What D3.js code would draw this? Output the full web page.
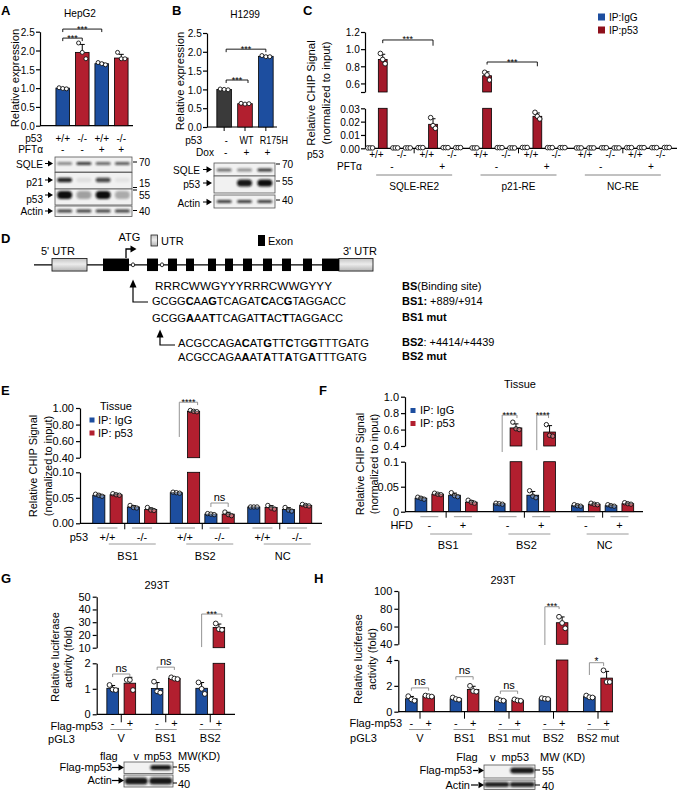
<!DOCTYPE html>
<html><head><meta charset="utf-8">
<script src="https://cdn.jsdelivr.net/npm/d3@7"></script>
<style>body{margin:0;background:#fff}</style>
</head><body>
<script>
// ================= DATA =================
// Panel A (HepG2)
const A_genotype = ["+/+","-/-","+/+","-/-"];
const A_pft = ["-","-","+","+"];
const A_values = [1.0, 1.95, 1.65, 1.8];
const A_points = [[1.01,0.99,0.98],[2.2,1.95,1.78],[1.68,1.65,1.62],[1.95,1.78,1.78]];
const A_ticks = [0,0.5,1,1.5,2,2.5];
const A_tickLabels = ["0.0","0.5","1.0","1.5","2.0","2.5"];
const A_blotRows = ["SQLE","p21","p53","Actin"];
const A_blotBands = [[0.45,0.8,0.6,0.65],[0.9,0.08,0.75,0.06],[1,0.35,1,0.3],[0.8,0.8,0.8,0.8]];
const A_mw = ["70","15","55","40"];

// Panel B (H1299)
const B_p53 = ["-","WT","R175H"];
const B_dox = ["-","+","+"];
const B_values = [1.0, 0.62, 1.88];
const B_points = [[1.01,1.0,0.99],[0.63,0.61,0.62],[1.9,1.87,1.87]];
const B_blotRows = ["SQLE","p53","Actin"];
const B_blotBands = [[0.6,0.45,0.85],[0,0.95,1],[0.8,0.8,0.8]];
const B_mw = ["70","55","40"];

// Panel C (ChIP, order: group > PFTα > genotype > IP)
const C_groups = ["SQLE-RE2","p21-RE","NC-RE"];
const C_pft = ["-","+"];
const C_genotype = ["+/+","-/-"];
const C_ip = ["IP:IgG","IP:p53"];
const C_values = [
  0.0003,0.88,0.0003,0.0003, 0.0005,0.018,0.0005,0.0005,
  0.0003,0.69,0.0005,0.0003, 0.0006,0.024,0.0005,0.0005,
  0.0003,0.0003,0.0004,0.0003, 0.0005,0.0005,0.0005,0.0006];
const C_points = [
  [0.0003,0.0003,0.0003],[0.95,0.88,0.83],[0.0003,0.0003,0.0003],[0.0003,0.0003,0.0003],
  [0.0005,0.0005,0.0005],[0.023,0.017,0.015],[0.0005,0.0005,0.0005],[0.0005,0.0005,0.0005],
  [0.0003,0.0003,0.0003],[0.73,0.70,0.64],[0.0005,0.0005,0.0005],[0.0003,0.0003,0.0003],
  [0.0006,0.0006,0.0006],[0.027,0.024,0.022],[0.0005,0.0005,0.0005],[0.0005,0.0005,0.0005],
  [0.0003,0.0003,0.0003],[0.0003,0.0003,0.0003],[0.0004,0.0004,0.0004],[0.0003,0.0003,0.0003],
  [0.0005,0.0005,0.0005],[0.0005,0.0005,0.0005],[0.0005,0.0005,0.0005],[0.0006,0.0006,0.0006]];
const C_upperTicks = [0.5,0.6,0.8,1.0,1.2];
const C_upperLabels = ["","0.6","0.8","1.0","1.2"];
const C_lowerTicks = [0,0.01,0.02,0.03];
const C_lowerLabels = ["0.00","0.01","0.02","0.03"];

// Panel D (gene diagram, positions in diagram units)
const D_line = [0,339];
const D_utr = [[18,53],[305,339]];
const D_exons = [[69,95],[113,124],[134,143],[152,160],[174,182],[191,199],[209,218],[229,238],[248,257],[269,278],[288,305]];
const D_introns = [99,128];
const D_seqs = [
  {seq:"RRRCWWGYYYRRRCWWGYYY", bold:[], label:[["BS",true],["(Binding site)",false]]},
  {seq:"GCGGCAAGTCAGATCACGTAGGACC", bold:[4,7,14,17], label:[["BS1:",true],[" +889/+914",false]]},
  {seq:"GCGGAAATTCAGATTACTTAGGACC", bold:[4,7,14,17], label:[["BS1 mut",true]]},
  {seq:"ACGCCAGACATGTTCTGGTTTGATG", bold:[8,11,14,17], label:[["BS2",true],[": +4414/+4439",false]]},
  {seq:"ACGCCAGAAATATTATGATTTGATG", bold:[8,11,14,17], label:[["BS2 mut",true]]}];

// Panel E (tissue ChIP by p53 genotype)
const E_groups = ["BS1","BS2","NC"];
const E_genotype = ["+/+","-/-"];
const E_ip = ["IP: IgG","IP: p53"];
const E_values = [0.055,0.056,0.032,0.027, 0.060,0.96,0.018,0.018, 0.032,0.031,0.027,0.035];
const E_points = [[0.057,0.055,0.053],[0.058,0.056,0.055],[0.035,0.031,0.030],[0.031,0.026,0.025],
  [0.061,0.060,0.059],[0.97,0.96,0.955],[0.019,0.018,0.017],[0.022,0.017,0.015],
  [0.032,0.032,0.032],[0.035,0.030,0.028],[0.031,0.026,0.024],[0.037,0.035,0.034]];
const E_upperTicks = [0.4,0.6,0.8,1.0], E_upperLabels = ["0.40","0.60","0.80","1.00"];
const E_lowerTicks = [0,0.05,0.1], E_lowerLabels = ["0.00","0.05","0.10"];

// Panel F (tissue ChIP by HFD)
const F_groups = ["BS1","BS2","NC"];
const F_hfd = ["-","+"];
const F_values = [0.027,0.035,0.033,0.019, 0.016,0.62,0.033,0.57, 0.012,0.015,0.012,0.016];
const F_points = [[0.029,0.027,0.025],[0.037,0.035,0.034],[0.038,0.032,0.030],[0.023,0.019,0.017],
  [0.017,0.016,0.015],[0.69,0.61,0.60],[0.042,0.031,0.028],[0.66,0.53,0.52],
  [0.014,0.012,0.011],[0.017,0.015,0.014],[0.014,0.012,0.011],[0.018,0.016,0.015]];
const F_upperTicks = [0.4,0.6,0.8,1.0], F_upperLabels = ["0.4","0.6","0.8","1.0"];
const F_lowerTicks = [0,0.05,0.1], F_lowerLabels = ["0","0.05","0.1"];

// Panel G (luciferase, 293T)
const G_groups = ["V","BS1","BS2"];
const G_flag = ["-","+"];
const G_values = [1.02,1.22, 1.01,1.41, 1.02,25.8];
const G_points = [[1.15,0.97,0.95],[1.35,1.35,0.95],[1.28,0.90,0.85],[1.45,1.40,1.38],[1.25,1.00,0.80],[29,24.5,24]];
const G_upperTicks = [10,20,30,40,50], G_upperLabels = ["10","20","30","40","50"];
const G_lowerTicks = [0,1,2], G_lowerLabels = ["0","1","2"];
const G_blotLanes = ["v","mp53"];
const G_blotBands = [[0,0.95],[0.95,0.95]];

// Panel H (luciferase, 293T, mutants)
const H_groups = ["V","BS1","BS1 mut","BS2","BS2 mut"];
const H_flag = ["-","+"];
const H_values = [1.0,1.21, 1.0,1.72, 0.91,0.89, 1.01,64.3, 1.16,2.6];
const H_points = [[1.2,0.95,0.85],[1.25,1.2,1.17],[1.1,0.98,0.93],[2.0,1.6,1.55],[1.0,0.88,0.85],
  [0.95,0.87,0.84],[1.05,1.0,0.98],[71,64,58],[1.25,1.12,1.1],[3.2,2.3,2.3]];
const H_upperTicks = [40,60,80,100], H_upperLabels = ["40","60","80","100"];
const H_lowerTicks = [0,2,4], H_lowerLabels = ["0","2","4"];
const H_blotLanes = ["v","mp53"];
const H_blotBands = [[0,0.95],[0.9,0.9]];

// ================= STYLE / HELPERS =================
const FONT = "'Liberation Sans', Arial, Helvetica, sans-serif";
const BLUE = "#1d4e9f", RED = "#b21f2f", CRED = "#a3192a", GRAY = "#3a3a3a", LGRAY = "#9a9a9a";
const NARROW = {size:11.6, sx:0.87};   // text style of panels A–C

const svg = d3.select("body").append("svg").attr("width",681).attr("height",795)
  .style("font-family",FONT);
const defs = svg.append("defs");
defs.append("filter").attr("id","blur").attr("x","-50%").attr("y","-100%").attr("width","200%").attr("height","300%")
  .append("feGaussianBlur").attr("stdDeviation",1.1);
const grad = defs.append("linearGradient").attr("id","utrGrad").attr("x1",0).attr("y1",0).attr("x2",0).attr("y2",1);
grad.append("stop").attr("offset","0%").attr("stop-color","#c4c4c4");
grad.append("stop").attr("offset","45%").attr("stop-color","#ececec");
grad.append("stop").attr("offset","100%").attr("stop-color","#b4b4b4");

function T(g,x,y,s,o={}) {
  const t = g.append("text").text(s)
    .attr("font-size",o.size||11).attr("text-anchor",o.anchor||"middle").attr("fill",o.fill||"#000");
  if (o.sx) t.attr("x",0).attr("y",0).attr("transform",`translate(${x},${y}) scale(${o.sx},1)`);
  else t.attr("x",x).attr("y",y);
  if (o.bold) t.attr("font-weight","bold");
  return t;
}
function N(o={}) { return Object.assign({}, NARROW, o); }
function L(g,x1,y1,x2,y2,o={}) {
  return g.append("line").attr("x1",x1).attr("y1",y1).attr("x2",x2).attr("y2",y2)
    .attr("stroke",o.stroke||"#000").attr("stroke-width",o.w||1);
}
function yTitle(g,cx,cy,lines,dx,size) {
  lines.forEach((s,i)=> g.append("text").attr("transform",`translate(${cx+i*dx},${cy}) rotate(-90)`)
    .attr("text-anchor","middle").attr("dominant-baseline","central").attr("font-size",size||11).text(s));
}
function drawAxis(g, x, scale, ticks, labels, st) {
  const ax = d3.axisLeft(scale).tickValues(ticks).tickFormat((d,i)=>labels[i])
    .tickSize(4).tickSizeOuter(0).tickPadding(2);
  const a = g.append("g").attr("transform",`translate(${x},0)`).call(ax);
  a.attr("font-family",FONT).attr("font-size",st ? st.size : 11);
  a.select(".domain").attr("stroke","#000").attr("stroke-width",1.2);
  a.selectAll(".tick line").attr("stroke","#000").attr("stroke-width",1.2);
  a.selectAll(".tick text").attr("fill","#000");
  if (st) a.selectAll(".tick text").attr("transform",`scale(${st.sx},1)`);
}
function drawBars(g, bars, lower, upper, o={}) {
  const lowMax = lower.domain()[1];
  const upMin = upper ? upper.domain()[0] : Infinity;
  const ySeg = v => (v >= upMin ? upper(v) : lower(Math.min(v, lowMax)));
  bars.forEach(b => {
    const yl = lower(Math.min(b.v, lowMax));
    g.append("rect").attr("x",b.cx-b.w/2).attr("y",yl).attr("width",b.w).attr("height",Math.max(0,lower(0)-yl))
      .attr("fill",b.color).attr("stroke","#000").attr("stroke-width",0.8);
    if (b.v > upMin) {
      g.append("rect").attr("x",b.cx-b.w/2).attr("y",upper(b.v)).attr("width",b.w)
        .attr("height",upper(upMin)-upper(b.v))
        .attr("fill",b.color).attr("stroke","#000").attr("stroke-width",0.8);
    }
    const sd = d3.deviation(b.pts) || 0;
    if (sd > 0) {
      const y1 = ySeg(b.v), y2 = ySeg(b.v + sd);
      if (y1 - y2 > 0.6) {
        L(g,b.cx,y1,b.cx,y2,{w:1});
        L(g,b.cx-2.5,y2,b.cx+2.5,y2,{w:1});
      }
    }
    b.pts.forEach((p,i) => {
      g.append("circle").attr("cx", b.cx + (i-1)*b.w*0.27).attr("cy", ySeg(p)).attr("r", o.r||2.2)
        .attr("fill", o.dotFill||"#fff").attr("fill-opacity", o.dotOpacity==null?1:o.dotOpacity)
        .attr("stroke","#111").attr("stroke-width",0.9);
    });
  });
}
function bracket(g, x1, x2, yTop, yL, yR, label, o={}) {
  g.append("path").attr("d",`M${x1},${yL}V${yTop}H${x2}V${yR}`).attr("fill","none")
    .attr("stroke",o.stroke||"#000").attr("stroke-width",o.w||0.9);
  T(g,(x1+x2)/2 + (o.tx||0), yTop + (o.dy!=null?o.dy:2.5), label, {size:o.size||10});
}
function arrowHeadRight(g,x,y,s=5) {
  g.append("path").attr("d",`M${x-s},${y-s*0.6}L${x},${y}L${x-s},${y+s*0.6}Z`).attr("fill","#000");
}
function blotRow(g, x0, x1, y0, y1, laneX, laneW, intens, bandY, bandH) {
  g.append("rect").attr("x",x0).attr("y",y0).attr("width",x1-x0).attr("height",y1-y0)
    .attr("fill","#f1f1f1").attr("stroke","#555").attr("stroke-width",0.8);
  intens.forEach((v,i) => {
    if (v <= 0) return;
    g.append("rect").attr("x",laneX(i)-laneW/2).attr("y",bandY-bandH/2).attr("width",laneW).attr("height",bandH)
      .attr("rx",bandH/2).attr("fill","#111").attr("opacity",v).attr("filter","url(#blur)");
  });
}
function panelLabel(x,y,s){ T(svg,x,y,s,{size:13,bold:true,anchor:"start"}); }

// ================= PANEL A =================
{
  const g = svg.append("g");
  panelLabel(1,15,"A");
  T(g,80,17,"HepG2",N());
  const y = d3.scaleLinear().domain([0,2.5]).range([125.7,31.7]);
  const x = d3.scaleBand().domain(d3.range(4)).range([53,131]).paddingInner(0.3).paddingOuter(0.15);
  const cx = i => x(i)+x.bandwidth()/2;
  drawAxis(g,40,y,A_ticks,A_tickLabels,NARROW);
  L(g,40,y(0),133,y(0),{w:1.2});
  drawBars(g, A_values.map((v,i)=>({cx:cx(i), w:x.bandwidth(), v, pts:A_points[i], color:i%2?RED:BLUE})), y, null, {r:2});
  bracket(g,cx(0),cx(2),y(2.57),y(2.49),y(2.49),"***",{size:9});
  bracket(g,cx(0),cx(1),y(2.33),y(2.25),y(2.25),"***",{size:9});
  yTitle(g,15,78,["Relative expression"],0,11.3);
  T(g,42,141.5,"p53",N({anchor:"end"}));
  T(g,43,153,"PFTα",N({anchor:"end"}));
  A_genotype.forEach((s,i)=>T(g,cx(i),141.5,s,N()));
  A_pft.forEach((s,i)=>T(g,cx(i),153,s,N()));
  const bx = d3.scaleBand().domain(d3.range(4)).range([55,132]);
  const lane = i => bx(i)+bx.bandwidth()/2;
  const rows = [[157,172],[172.5,189],[189,205],[206,216.5]];
  const bandY = [163.5,180,195,211], bandH = [3,4.5,8,3];
  const labY = [167.5,185.5,202.5,215], arrY = [163.5,180,195,211];
  rows.forEach((r,k)=>{
    blotRow(g,55,132,r[0],r[1],lane,15,A_blotBands[k],bandY[k],bandH[k]);
    T(g,43,labY[k],A_blotRows[k],N({anchor:"end"}));
    L(g,45,arrY[k],49,arrY[k],{w:1}); arrowHeadRight(g,53,arrY[k],5);
  });
  const mwY = [162,183,195,210.5], tickY = [162,187.5,190,210.5];
  A_mw.forEach((s,k)=>{ L(g,133,tickY[k],137,tickY[k],{w:1}); T(g,139,mwY[k]+4,s,N({anchor:"start"})); });
}

// ================= PANEL B =================
{
  const g = svg.append("g");
  panelLabel(172,15,"B");
  T(g,245,18,"H1299",N());
  const y = d3.scaleLinear().domain([0,2.5]).range([127,33]);
  const x = d3.scaleBand().domain(d3.range(3)).range([211,279]).paddingInner(0.3).paddingOuter(0.28);
  const cx = i => x(i)+x.bandwidth()/2;
  drawAxis(g,207,y,A_ticks,A_tickLabels,NARROW);
  L(g,207,y(0),277,y(0),{w:1.2});
  B_values.forEach((v,i)=>L(g,cx(i),y(0),cx(i),y(0)+4,{w:1}));
  drawBars(g, B_values.map((v,i)=>({cx:cx(i), w:x.bandwidth(), v, pts:B_points[i], color:[GRAY,RED,BLUE][i]})), y, null, {r:2});
  bracket(g,cx(0)+2,cx(2),y(2.07),y(1.99),y(1.99),"***",{size:9});
  bracket(g,cx(0)+2,cx(1)+3,y(1.25),y(1.17),y(1.17),"***",{size:9});
  yTitle(g,180,81,["Relative expression"],0,11.3);
  T(g,202,144,"p53",N({anchor:"end"}));
  T(g,214,156,"Dox",N({anchor:"end"}));
  const labX = [cx(0)+2, cx(1)+1.5, cx(2)+8];
  B_p53.forEach((s,i)=>T(g,labX[i],144,s,N({sx:0.78})));
  B_dox.forEach((s,i)=>T(g,cx(i)+1.5,156,s,N()));
  const bx = d3.scaleBand().domain(d3.range(3)).range([214,275]);
  const lane = i => bx(i)+bx.bandwidth()/2;
  const rows = [[163,176],[176,193],[195,208]];
  const bandY = [170,183,201.5], bandH = [3.2,7,3.2];
  const labY = [174,188,207], arrY = [169.5,183,202];
  rows.forEach((r,k)=>{
    blotRow(g,214,275,r[0],r[1],lane,15,B_blotBands[k],bandY[k],bandH[k]);
    T(g,200,labY[k],B_blotRows[k],N({anchor:"end"}));
    L(g,203,arrY[k],207,arrY[k],{w:1}); arrowHeadRight(g,212,arrY[k],5.5);
  });
  const mwY = [164,181,200];
  B_mw.forEach((s,k)=>{ L(g,276,mwY[k],280,mwY[k],{w:1}); T(g,282,mwY[k]+4,s,N({anchor:"start"})); });
}

// ================= PANEL C =================
{
  const g = svg.append("g");
  panelLabel(303,15,"C");
  const upper = d3.scaleLinear().domain([0.5,1.2]).range([92,32]);
  const lower = d3.scaleLinear().domain([0,0.03]).range([148.3,108.3]);
  const gx = d3.scaleBand().domain(d3.range(3)).range([362,675]);
  const ix = d3.scaleBand().domain(d3.range(8)).range([0,gx.bandwidth()]).paddingInner(0.3).paddingOuter(0.3);
  const cx = (gi,j) => gx(gi)+ix(j)+ix.bandwidth()/2;
  drawAxis(g,365,upper,C_upperTicks,C_upperLabels,NARROW);
  drawAxis(g,365,lower,C_lowerTicks,C_lowerLabels,NARROW);
  L(g,365,lower(0),677,lower(0),{w:1.2});
  const bars = [];
  C_values.forEach((v,k)=>{ const gi=Math.floor(k/8), j=k%8;
    bars.push({cx:cx(gi,j), w:ix.bandwidth(), v, pts:C_points[k], color:j%2?CRED:BLUE}); });
  drawBars(g,bars,lower,upper,{r:2.3});
  bracket(g,cx(0,1),cx(0,5),upper(1.107),upper(1.07),upper(1.04),"***",{size:9});
  bracket(g,cx(1,1),cx(1,5),upper(0.85),upper(0.82),upper(0.80),"***",{size:9});
  yTitle(g,311,93,["Relative CHIP Signal","(normalized to input)"],15,11.3);
  C_ip.forEach((s,i)=>{
    g.append("rect").attr("x",598).attr("y",13.5+i*13).attr("width",7).attr("height",7).attr("fill",i?"#8e0f1b":BLUE);
    T(g,609,21+i*13,s,N({anchor:"start"}));
  });
  T(g,307,158,"p53",N({anchor:"start"}));
  T(g,337,170,"PFTα",N({anchor:"start"}));
  C_groups.forEach((name,gi)=>{
    const gc = gx(gi)+gx.bandwidth()/2;
    L(g,gc,lower(0),gc,lower(0)+5,{w:1});
    for (let s=0;s<2;s++){
      for (let k=0;k<2;k++){
        const j = s*4+k*2;
        T(g,(cx(gi,j)+cx(gi,j+1))/2,158,C_genotype[k],N());
      }
      T(g,(cx(gi,s*4)+cx(gi,s*4+3))/2+3,170,C_pft[s],N());
    }
    L(g,gc-38,175,gc+38,175,{stroke:"#777",w:0.9});
    T(g,gc,190,name,N());
  });
}

// ================= PANEL D =================
{
  const g = svg.append("g");
  panelLabel(1,243,"D");
  const x = d3.scaleLinear().domain([0,340]).range([34,374]);
  const yMid = 264.8, h = 12.5;
  L(g,x(D_line[0]),yMid,x(D_line[1]),yMid,{w:1.2});
  D_utr.forEach(([a,b])=>g.append("rect").attr("x",x(a)).attr("y",yMid-h/2).attr("width",x(b)-x(a)).attr("height",h)
    .attr("fill","url(#utrGrad)").attr("stroke","#222").attr("stroke-width",0.9));
  D_exons.forEach(([a,b])=>g.append("rect").attr("x",x(a)).attr("y",yMid-h/2).attr("width",x(b)-x(a)).attr("height",h)
    .attr("fill","#000"));
  D_introns.forEach(p=>g.append("ellipse").attr("cx",x(p)).attr("cy",yMid).attr("rx",1.6).attr("ry",2)
    .attr("fill","#fff").attr("stroke","#000").attr("stroke-width",0.8));
  T(g,41,255,"5' UTR",{anchor:"start"});
  T(g,343,255,"3' UTR",{anchor:"start"});
  g.append("path").attr("d","M126,258V249H131").attr("fill","none").attr("stroke","#000").attr("stroke-width",1.3);
  arrowHeadRight(g,136.5,249,6);
  T(g,129.5,241,"ATG");
  g.append("rect").attr("x",151).attr("y",235).attr("width",6.5).attr("height",11).attr("fill","url(#utrGrad)").attr("stroke","#222").attr("stroke-width",0.8);
  T(g,161,245,"UTR",{anchor:"start"});
  g.append("rect").attr("x",258).attr("y",235).attr("width",7).attr("height",11).attr("fill","#000");
  T(g,268,245,"Exon",{anchor:"start"});
  g.append("path").attr("d","M148,302H133V286").attr("fill","none").attr("stroke","#000").attr("stroke-width",1.2);
  g.append("path").attr("d","M129.5,287.5L133,279.5L136.5,287.5Z").attr("fill","#000");
  g.append("path").attr("d","M175,345H160V336").attr("fill","none").attr("stroke","#000").attr("stroke-width",1.2);
  g.append("path").attr("d","M156.5,337.5L160,329.5L163.5,337.5Z").attr("fill","#000");
  const seqLayout = [{x:155,y:290,len:177},{x:152,y:305,len:194},{x:152,y:322,len:191},{x:178,y:347,len:191},{x:178,y:361,len:189}];
  const labY = [290,305,321,346,360];
  D_seqs.forEach((d,k)=>{
    const lay = seqLayout[k];
    const t = g.append("text").attr("x",lay.x).attr("y",lay.y).attr("font-size",11)
      .attr("textLength",lay.len).attr("lengthAdjust","spacingAndGlyphs");
    let runs = [], cur = null;
    d.seq.split("").forEach((ch,i)=>{ const b = d.bold.includes(i);
      if (!cur || cur.b!==b) { cur={b,s:""}; runs.push(cur); } cur.s+=ch; });
    runs.forEach(r=>t.append("tspan").attr("font-weight",r.b?"bold":"normal").text(r.s));
    const lt = g.append("text").attr("x",402).attr("y",labY[k]).attr("font-size",11);
    d.label.forEach(([s,b])=>lt.append("tspan").attr("font-weight",b?"bold":"normal").text(s));
  });
}

// ================= PANEL E =================
{
  const g = svg.append("g");
  panelLabel(1,395,"E");
  const upper = d3.scaleLinear().domain([0.4,1.0]).range([457.7,408]);
  const lower = d3.scaleLinear().domain([0,0.1]).range([523.3,472.3]);
  const gx = d3.scaleBand().domain(d3.range(3)).range([86,318.5]);
  const ix = d3.scaleBand().domain(d3.range(4)).range([0,gx.bandwidth()]).paddingInner(0.3).paddingOuter(0.39);
  const cx = (gi,j) => gx(gi)+ix(j)+ix.bandwidth()/2;
  drawAxis(g,80,upper,E_upperTicks,E_upperLabels);
  drawAxis(g,80,lower,E_lowerTicks,E_lowerLabels);
  L(g,80,lower(0),322,lower(0),{w:1.2});
  const bars = E_values.map((v,k)=>({cx:cx(Math.floor(k/4),k%4), w:ix.bandwidth(), v, pts:E_points[k], color:k%2?RED:BLUE}));
  drawBars(g,bars,lower,upper,{r:2.2,dotOpacity:0.35});
  bracket(g,cx(1,0)+3,cx(1,1)+4,upper(1.07),upper(0.65),upper(1.035),"****",{size:9,stroke:"#888"});
  bracket(g,cx(1,2),cx(1,3),lower(0.0398),lower(0.032),lower(0.032),"ns",{size:11,dy:-2.5,stroke:"#888"});
  yTitle(g,33,466,["Relative CHIP Signal","(normalized to input)"],15);
  T(g,116,410,"Tissue");
  E_ip.forEach((s,i)=>{
    g.append("rect").attr("x",89.5).attr("y",417.5+i*13).attr("width",5).attr("height",5).attr("fill",i?RED:BLUE);
    T(g,98,423.5+i*13,s,{anchor:"start"});
  });
  T(g,88,541,"p53",{anchor:"end"});
  E_groups.forEach((name,gi)=>{
    const gc = gx(gi)+gx.bandwidth()/2;
    L(g,gc,lower(0),gc,lower(0)+6,{w:1});
    for (let k=0;k<2;k++){
      const pc = (cx(gi,2*k)+cx(gi,2*k+1))/2;
      L(g,pc-10,528,pc+10,528,{stroke:LGRAY,w:1});
      T(g,pc,541,E_genotype[k]);
    }
    L(g,gc-16,544,gc+31,544,{stroke:LGRAY,w:1});
    T(g,gc+3,560,name);
  });
}

// ================= PANEL F =================
{
  const g = svg.append("g");
  panelLabel(319,395,"F");
  const upper = d3.scaleLinear().domain([0.4,1.0]).range([446,396.7]);
  const lower = d3.scaleLinear().domain([0,0.1]).range([511.7,461.7]);
  const gx = d3.scaleBand().domain(d3.range(3)).range([407,641.75]);
  const ix = d3.scaleBand().domain(d3.range(4)).range([0,gx.bandwidth()]).paddingInner(0.3).paddingOuter(0.48);
  const cx = (gi,j) => gx(gi)+ix(j)+ix.bandwidth()/2;
  drawAxis(g,405,upper,F_upperTicks,F_upperLabels);
  drawAxis(g,405,lower,F_lowerTicks,F_lowerLabels);
  L(g,405,lower(0),643,lower(0),{w:1.2});
  const bars = F_values.map((v,k)=>({cx:cx(Math.floor(k/4),k%4), w:ix.bandwidth(), v, pts:F_points[k], color:k%2?RED:BLUE}));
  drawBars(g,bars,lower,upper,{r:2.2,dotOpacity:0.35});
  bracket(g,cx(1,0)+3,cx(1,1)+1,upper(0.777),upper(0.327),upper(0.74),"****",{size:9,stroke:"#888"});
  bracket(g,cx(1,2)+4,cx(1,3)-1,upper(0.777),upper(0.35),upper(0.74),"****",{size:9,stroke:"#888"});
  yTitle(g,360,464,["Relative CHIP Signal","(normalized to input)"],14);
  T(g,520,388,"Tissue");
  E_ip.forEach((s,i)=>{
    g.append("rect").attr("x",410.5).attr("y",408+i*13).attr("width",5).attr("height",5).attr("fill",i?RED:BLUE);
    T(g,420,414+i*13,s,{anchor:"start"});
  });
  T(g,413,529,"HFD",{anchor:"end"});
  F_groups.forEach((name,gi)=>{
    const gc = gx(gi)+gx.bandwidth()/2;
    L(g,gc,lower(0),gc,lower(0)+6,{w:1});
    for (let k=0;k<2;k++){
      const pc = (cx(gi,2*k)+cx(gi,2*k+1))/2;
      L(g,pc-9,516.7,pc+9,516.7,{stroke:LGRAY,w:1});
      T(g,pc,529,F_hfd[k]);
    }
    L(g,gc-16,534,gc+26,534,{stroke:LGRAY,w:1});
    T(g,gc+2,549,name);
  });
}

// ================= PANEL G =================
{
  const g = svg.append("g");
  panelLabel(1,583,"G");
  T(g,157,589,"293T");
  const upper = d3.scaleLinear().domain([10,50]).range([647.7,596.7]);
  const lower = d3.scaleLinear().domain([0,2]).range([714.3,663.3]);
  const gx = d3.scaleBand().domain(d3.range(3)).range([99,232.5]);
  const ix = d3.scaleBand().domain(d3.range(2)).range([0,gx.bandwidth()]).paddingInner(0.33).paddingOuter(0.455);
  const cx = (gi,j) => gx(gi)+ix(j)+ix.bandwidth()/2;
  drawAxis(g,96.7,upper,G_upperTicks,G_upperLabels);
  drawAxis(g,96.7,lower,G_lowerTicks,G_lowerLabels);
  L(g,96.7,lower(0),235,lower(0),{w:1.2});
  const bars = G_values.map((v,k)=>({cx:cx(Math.floor(k/2),k%2), w:ix.bandwidth(), v, pts:G_points[k], color:k%2?RED:BLUE}));
  drawBars(g,bars,lower,upper,{r:2.4});
  bracket(g,cx(2,0),cx(2,1)+3,upper(36.4),upper(10.5),upper(34),"***",{size:9,stroke:"#888"});
  bracket(g,cx(0,0),cx(0,1),lower(1.58),lower(1.46),lower(1.46),"ns",{size:11,dy:-2.5,stroke:"#888"});
  bracket(g,cx(1,0),cx(1,1),lower(1.85),lower(1.74),lower(1.74),"ns",{size:11,dy:-2.5,stroke:"#888"});
  yTitle(g,55,657,["Relative luciferase","activity (fold)"],13);
  T(g,103,730,"Flag-mp53",{anchor:"end"});
  T(g,75,743,"pGL3",{anchor:"end"});
  G_groups.forEach((name,gi)=>{
    const gc = gx(gi)+gx.bandwidth()/2;
    L(g,gc,lower(0),gc,lower(0)+8,{w:1});
    G_flag.forEach((s,j)=>T(g,cx(gi,j),727,s));
    L(g,gc-11,729.5,gc+11,729.5,{stroke:LGRAY,w:1});
    T(g,gc,742,name);
  });
  const bx = d3.scaleBand().domain(d3.range(2)).range([124,173]);
  const lane = i => bx(i)+bx.bandwidth()/2;
  T(g,100,760,"flag",{anchor:"start"});
  G_blotLanes.forEach((s,i)=>T(g,lane(i)+(i?-3:0),760,s));
  T(g,178,760,"MW(KD)",{anchor:"start"});
  blotRow(g,124,173,762,773.5,lane,21,G_blotBands[0],767.5,5);
  blotRow(g,124,173,775,787,lane,23,G_blotBands[1],781,7);
  T(g,112,771,"Flag-mp53",{anchor:"end"});
  T(g,112,784,"Actin",{anchor:"end"});
  L(g,112,767.5,119,767.5,{w:1.2}); arrowHeadRight(g,124,767.5,5.5);
  L(g,112,780.5,119,780.5,{w:1.2}); arrowHeadRight(g,124,780.5,5.5);
  L(g,173,767,177,767,{w:1}); T(g,178,771.5,"55",{anchor:"start"});
  L(g,173,783,177,783,{w:1}); T(g,178,787.5,"40",{anchor:"start"});
}

// ================= PANEL H =================
{
  const g = svg.append("g");
  panelLabel(314,583,"H");
  T(g,503,584,"293T");
  const upper = d3.scaleLinear().domain([40,100]).range([644.3,591]);
  const lower = d3.scaleLinear().domain([0,4]).range([711.7,660]);
  const gx = d3.scaleBand().domain(d3.range(5)).range([397.75,620.25]);
  const ix = d3.scaleBand().domain(d3.range(2)).range([0,gx.bandwidth()]).paddingInner(0.33).paddingOuter(0.455);
  const cx = (gi,j) => gx(gi)+ix(j)+ix.bandwidth()/2;
  drawAxis(g,398.3,upper,H_upperTicks,H_upperLabels);
  drawAxis(g,398.3,lower,H_lowerTicks,H_lowerLabels);
  L(g,398.3,lower(0),613,lower(0),{w:1.2});
  const bars = H_values.map((v,k)=>({cx:cx(Math.floor(k/2),k%2), w:ix.bandwidth(), v, pts:H_points[k], color:k%2?RED:BLUE}));
  drawBars(g,bars,lower,upper,{r:2.4});
  bracket(g,cx(3,0),cx(3,1)-3,upper(82.3),upper(39.2),upper(79.7),"***",{size:9,stroke:"#888"});
  bracket(g,cx(4,0),cx(4,1)-3,lower(3.79),lower(2.84),lower(3.54),"*",{size:10,stroke:"#888"});
  bracket(g,cx(0,0),cx(0,1),lower(1.84),lower(1.62),lower(1.62),"ns",{size:11,dy:-2.5,stroke:"#888"});
  bracket(g,cx(1,0),cx(1,1),lower(2.71),lower(2.48),lower(2.48),"ns",{size:11,dy:-2.5,stroke:"#888"});
  bracket(g,cx(2,0),cx(2,1),lower(1.6),lower(1.38),lower(1.38),"ns",{size:11,dy:-2.5,stroke:"#888"});
  yTitle(g,358,659,["Relative luciferase","activity (fold)"],14);
  T(g,402,727,"Flag-mp53",{anchor:"end"});
  T(g,377,742,"pGL3",{anchor:"end"});
  H_groups.forEach((name,gi)=>{
    const gc = gx(gi)+gx.bandwidth()/2;
    L(g,gc,lower(0),gc,lower(0)+7,{w:1});
    H_flag.forEach((s,j)=>T(g,cx(gi,j),727,s));
    L(g,gc-11,729.5,gc+11,729.5,{stroke:LGRAY,w:1});
    T(g,gc,742,name);
  });
  const bx = d3.scaleBand().domain(d3.range(2)).range([484,535]);
  const lane = i => bx(i)+bx.bandwidth()/2;
  T(g,467,761,"Flag");
  H_blotLanes.forEach((s,i)=>T(g,lane(i)+(i?-7:-4),761,s));
  T(g,540,761,"MW (KD)",{anchor:"start"});
  blotRow(g,484,535,765,778,lane,24,H_blotBands[0],770.5,6);
  blotRow(g,484,535,780,789.5,lane,25,H_blotBands[1],784.5,5);
  T(g,472,774,"Flag-mp53",{anchor:"end"});
  T(g,470,789,"Actin",{anchor:"end"});
  L(g,473,770.5,478,770.5,{w:1.2}); arrowHeadRight(g,484,770.5,5.5);
  L(g,471,785,478,785,{w:1.2}); arrowHeadRight(g,484,785,5.5);
  L(g,535,770,540,770,{w:1}); T(g,542,774.5,"55",{anchor:"start"});
  L(g,535,785,540,785,{w:1}); T(g,542,789.5,"40",{anchor:"start"});
}
</script>
</body></html>
